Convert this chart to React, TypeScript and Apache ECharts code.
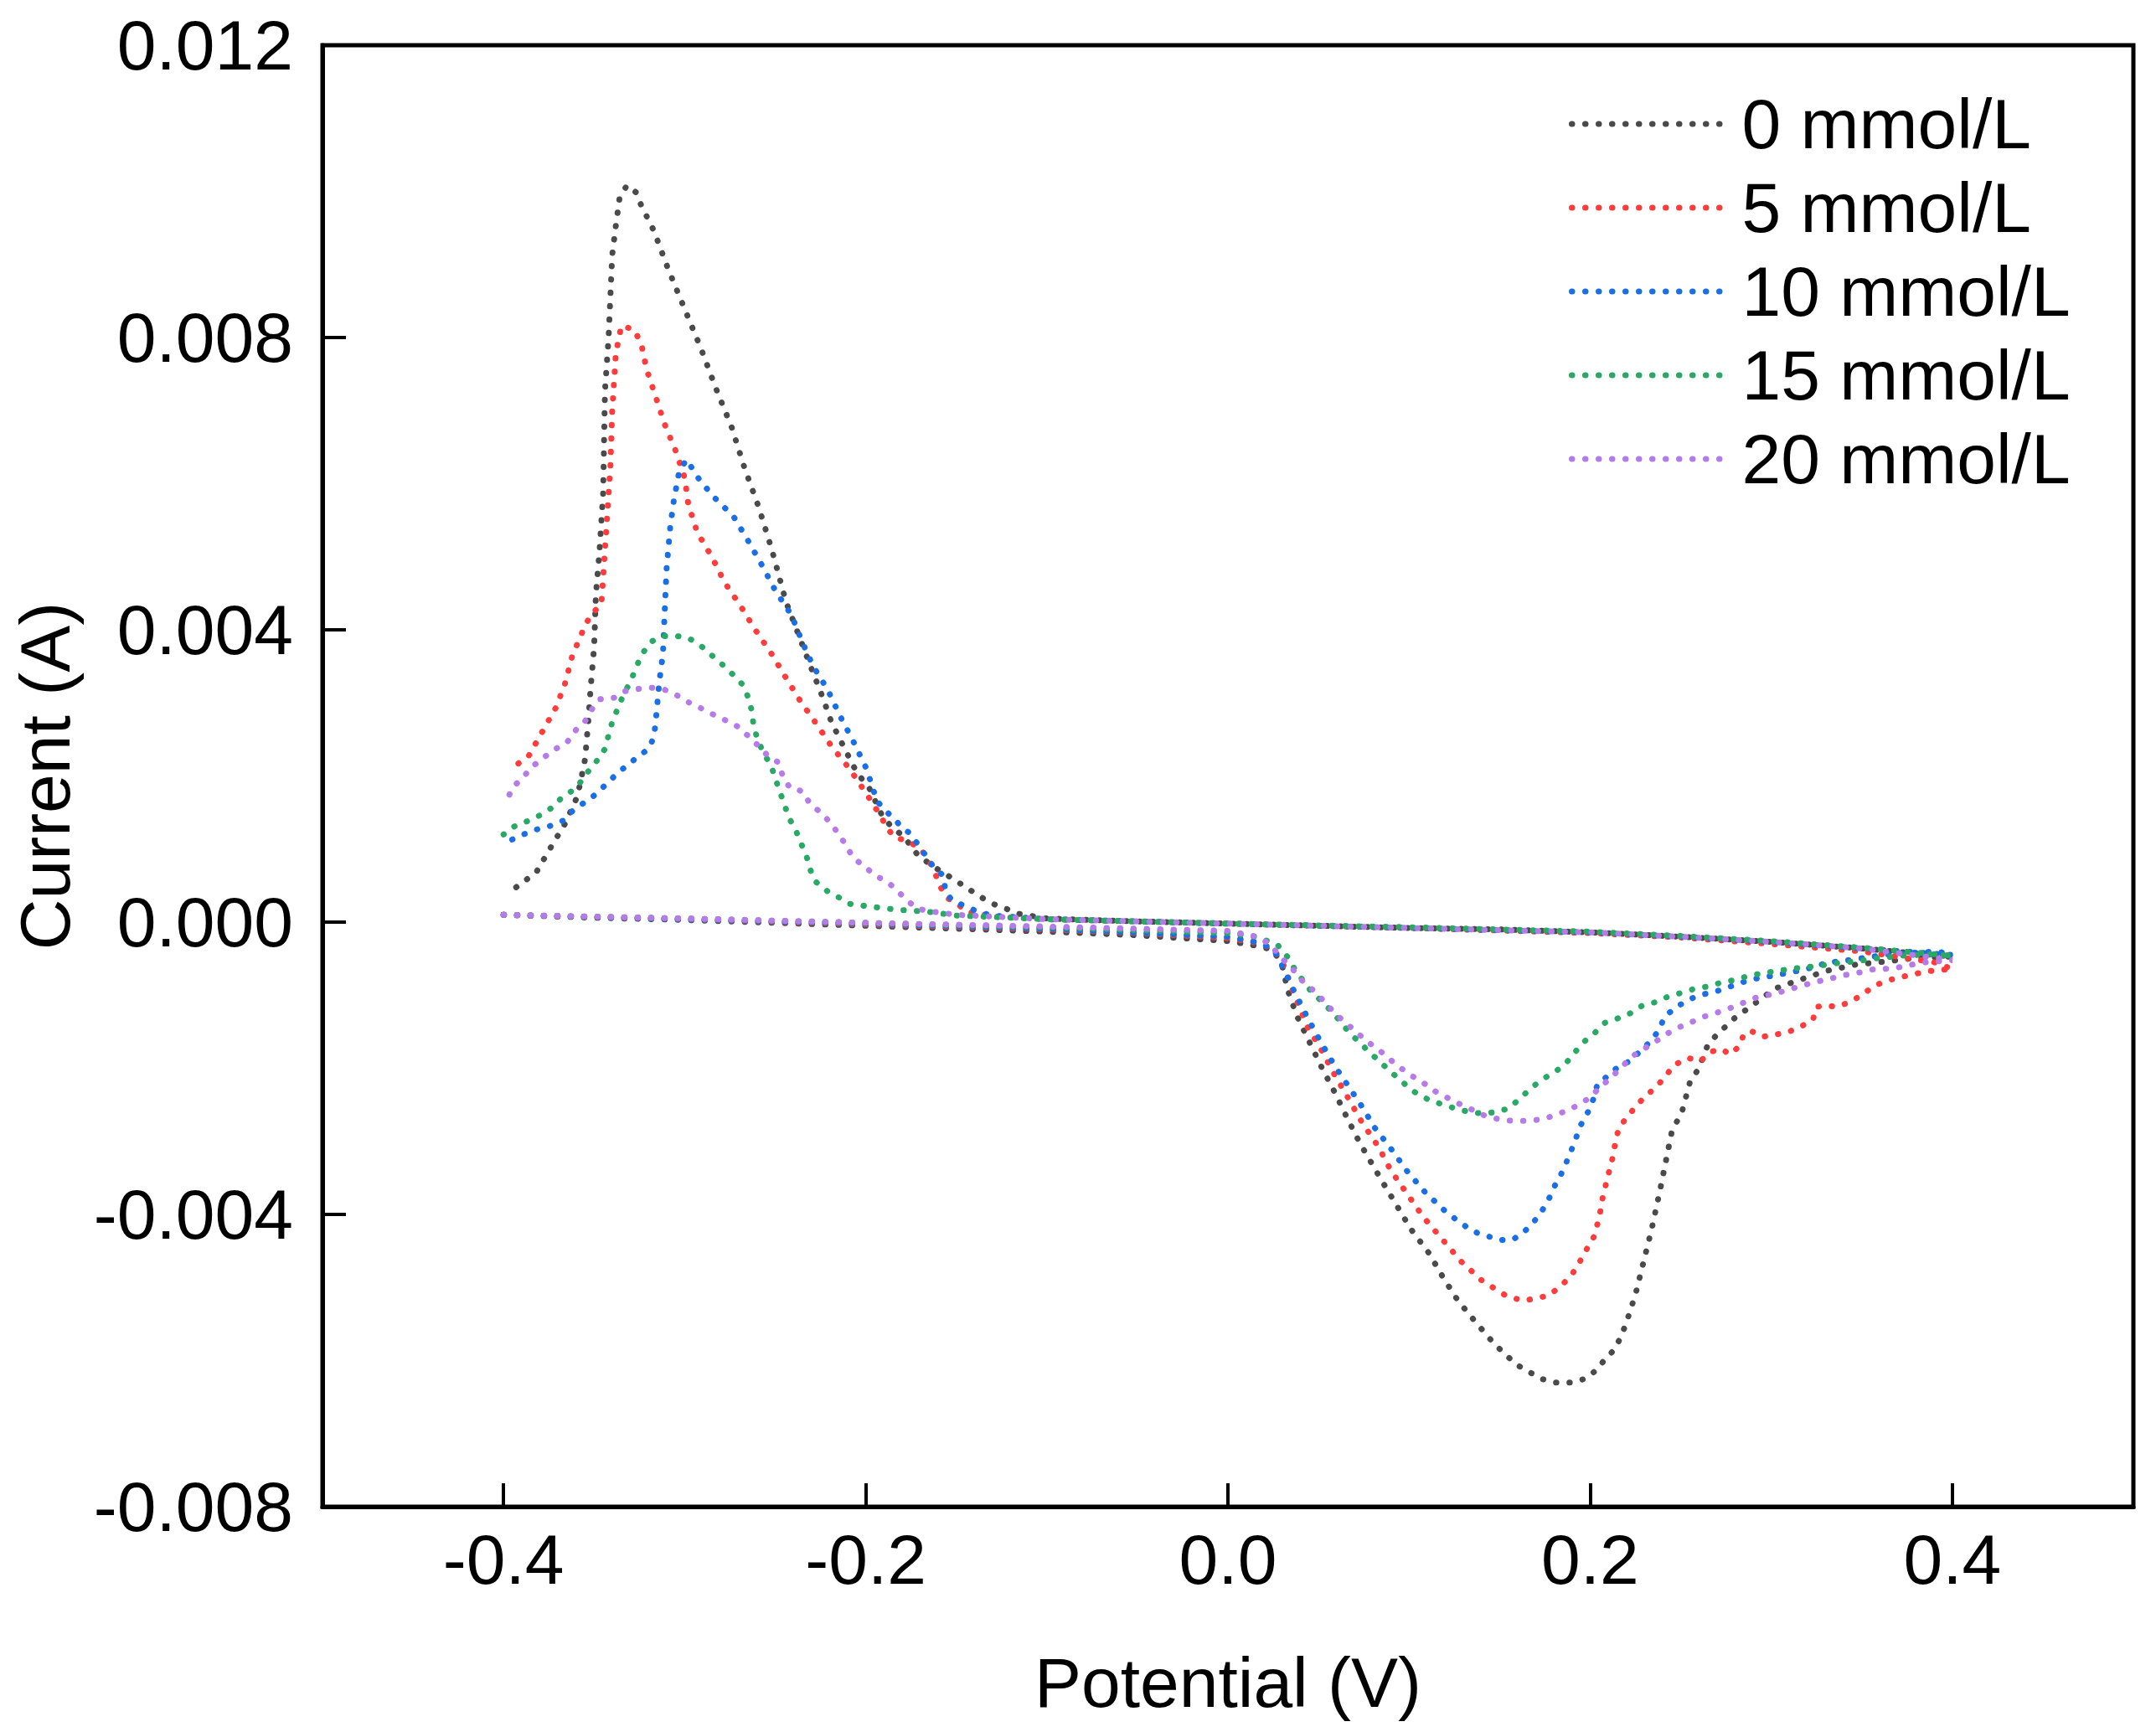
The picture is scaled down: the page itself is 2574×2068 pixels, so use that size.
import { useEffect, useRef } from 'react';
import * as echarts from 'echarts';

type Pt = [number, number];

// potential (V), current (A) — each loop: forward sweep, cathodic wave, return sweep, anodic wave
const seriesNames = ['0 mmol/L', '5 mmol/L', '10 mmol/L', '15 mmol/L', '20 mmol/L'];
const seriesColors = ['#4a4a4a', '#ff3c3c', '#1a6ee6', '#2aa866', '#b57be8'];

const xTicks = [-0.4, -0.2, 0, 0.2, 0.4];

const c0: Pt[] = [
  [-0.4, 0.0001], [-0.35, 0.00006], [-0.3, 0.00003], [-0.25, -0.00001], [-0.2, -0.00005], [-0.15, -0.00009],
  [-0.1, -0.00013], [-0.05, -0.00018], [0.0, -0.00026], [0.015, -0.00032], [0.025, -0.00038],
  [0.03, -0.0006], [0.033, -0.00093], [0.038, -0.00128], [0.045, -0.00164], [0.052, -0.002], [0.059, -0.00233],
  [0.066, -0.00269], [0.073, -0.00303], [0.085, -0.00354], [0.093, -0.00387], [0.101, -0.0042], [0.111, -0.00453],
  [0.119, -0.00487], [0.127, -0.00518], [0.137, -0.00548], [0.147, -0.00577], [0.159, -0.00605], [0.173, -0.00625],
  [0.181, -0.0063], [0.19, -0.0063], [0.197, -0.00625], [0.203, -0.00614], [0.208, -0.00599], [0.213, -0.00586],
  [0.217, -0.00568], [0.22, -0.00548], [0.225, -0.0051], [0.23, -0.0046], [0.234, -0.0042], [0.239, -0.00362],
  [0.242, -0.00325], [0.245, -0.00288], [0.251, -0.00257], [0.255, -0.0022], [0.26, -0.002], [0.265, -0.00168],
  [0.27, -0.00154], [0.28, -0.00131], [0.29, -0.00113], [0.302, -0.00091], [0.317, -0.00078], [0.33, -0.00067],
  [0.347, -0.00058], [0.363, -0.00054], [0.38, -0.00049], [0.4, -0.00047],
  [0.38, -0.00043], [0.35, -0.00036], [0.3, -0.00027], [0.25, -0.0002], [0.2, -0.00014], [0.15, -0.0001],
  [0.1, -0.00008], [0.05, -0.00005], [0.0, -0.00002], [-0.05, 0.00001], [-0.1, 0.00005], [-0.117, 0.00012],
  [-0.121, 0.00017], [-0.127, 0.00022], [-0.133, 0.00029], [-0.14, 0.0004], [-0.151, 0.00058], [-0.162, 0.00075],
  [-0.171, 0.00091], [-0.179, 0.00117], [-0.186, 0.00131], [-0.191, 0.00146], [-0.198, 0.00183], [-0.205, 0.00205],
  [-0.212, 0.00239], [-0.219, 0.00274], [-0.224, 0.00309], [-0.23, 0.00347], [-0.244, 0.00438], [-0.252, 0.00511],
  [-0.259, 0.00567], [-0.267, 0.00622], [-0.274, 0.00677], [-0.283, 0.00732], [-0.291, 0.00785], [-0.3, 0.00839],
  [-0.309, 0.00893], [-0.317, 0.00946], [-0.324, 0.00981], [-0.327, 0.00999], [-0.332, 0.01008], [-0.336, 0.0099],
  [-0.338, 0.00953], [-0.34, 0.00913], [-0.341, 0.00857], [-0.342, 0.008], [-0.344, 0.00727], [-0.345, 0.00588],
  [-0.347, 0.00508], [-0.349, 0.00449], [-0.35, 0.00376], [-0.352, 0.00318], [-0.353, 0.00281], [-0.355, 0.00223],
  [-0.358, 0.00186], [-0.36, 0.00168], [-0.366, 0.00135], [-0.374, 0.00102], [-0.382, 0.00068], [-0.394, 0.00046],
];

const c5: Pt[] = [
  [-0.4, 0.0001], [-0.3, 0.00004], [-0.2, -0.00003], [-0.1, -0.0001], [-0.05, -0.00015], [0.0, -0.00022],
  [0.015, -0.00028], [0.025, -0.00036],
  [0.031, -0.0006], [0.036, -0.00095], [0.044, -0.00144], [0.051, -0.00172], [0.058, -0.00205], [0.066, -0.00239],
  [0.074, -0.00274], [0.083, -0.00307], [0.09, -0.0034], [0.099, -0.00372], [0.108, -0.00404], [0.118, -0.00433],
  [0.129, -0.00465], [0.14, -0.0049], [0.154, -0.00512], [0.163, -0.00518], [0.17, -0.00515], [0.177, -0.00511],
  [0.184, -0.00498], [0.19, -0.00482], [0.194, -0.00466], [0.198, -0.00448], [0.202, -0.00431], [0.205, -0.00405],
  [0.207, -0.00376], [0.209, -0.00356], [0.211, -0.00336], [0.213, -0.00317], [0.214, -0.00299], [0.216, -0.00281],
  [0.221, -0.00265], [0.226, -0.0025], [0.231, -0.00237], [0.236, -0.00227], [0.242, -0.0021], [0.246, -0.00196],
  [0.254, -0.00186], [0.261, -0.0019], [0.267, -0.00177], [0.273, -0.00174], [0.277, -0.00181], [0.282, -0.00171],
  [0.285, -0.00153], [0.289, -0.00149], [0.295, -0.00157], [0.302, -0.00154], [0.309, -0.00151], [0.317, -0.00142],
  [0.323, -0.00134], [0.325, -0.00116], [0.33, -0.00114], [0.336, -0.00116], [0.344, -0.00109], [0.351, -0.00098],
  [0.357, -0.00087], [0.364, -0.0008], [0.372, -0.00075], [0.379, -0.00071], [0.387, -0.00067], [0.4, -0.00064],
  [0.39, -0.00055], [0.35, -0.0004], [0.3, -0.0003], [0.25, -0.00021], [0.2, -0.00015], [0.1, -0.00008],
  [0.0, -0.00002], [-0.1, 0.00004], [-0.13, 0.00008],
  [-0.144, 0.00014], [-0.149, 0.00024], [-0.155, 0.00033], [-0.159, 0.00049], [-0.162, 0.00069], [-0.165, 0.00084],
  [-0.17, 0.00101], [-0.177, 0.00111], [-0.184, 0.00116], [-0.188, 0.00128], [-0.192, 0.00146], [-0.2, 0.00177],
  [-0.209, 0.0021], [-0.219, 0.00241], [-0.228, 0.00274], [-0.236, 0.00302], [-0.244, 0.00334], [-0.252, 0.00367],
  [-0.261, 0.004], [-0.269, 0.00432], [-0.278, 0.00465], [-0.285, 0.005], [-0.293, 0.00533], [-0.298, 0.00572],
  [-0.3, 0.00608], [-0.305, 0.00645], [-0.311, 0.00681], [-0.316, 0.00719], [-0.321, 0.00756], [-0.324, 0.00792],
  [-0.328, 0.00811], [-0.335, 0.00816], [-0.338, 0.00778], [-0.34, 0.00701], [-0.341, 0.00624], [-0.343, 0.00548],
  [-0.345, 0.00472], [-0.346, 0.00435], [-0.352, 0.0042], [-0.356, 0.004], [-0.362, 0.00365], [-0.366, 0.00327],
  [-0.371, 0.00294], [-0.379, 0.00259], [-0.386, 0.00228], [-0.394, 0.00213],
];

const c10: Pt[] = [
  [-0.4, 0.0001], [-0.3, 0.00004], [-0.2, -0.00002], [-0.1, -0.00009], [0.0, -0.0002], [0.015, -0.00027],
  [0.025, -0.00036],
  [0.03, -0.0006], [0.037, -0.00097], [0.044, -0.00131], [0.051, -0.00163], [0.059, -0.00197], [0.068, -0.0023],
  [0.076, -0.0026], [0.08, -0.00278], [0.09, -0.0031], [0.099, -0.00341], [0.109, -0.0037], [0.121, -0.00398],
  [0.135, -0.00423], [0.15, -0.00435], [0.157, -0.00435], [0.163, -0.00425], [0.168, -0.00413], [0.173, -0.00397],
  [0.177, -0.0038], [0.18, -0.00363], [0.184, -0.00345], [0.187, -0.00328], [0.19, -0.0031], [0.195, -0.00277],
  [0.199, -0.00259], [0.202, -0.00241], [0.204, -0.00222], [0.21, -0.0021], [0.215, -0.00199], [0.222, -0.0019],
  [0.228, -0.00176], [0.233, -0.00164], [0.238, -0.00148], [0.241, -0.0013], [0.247, -0.00117], [0.254, -0.00107],
  [0.26, -0.001], [0.268, -0.00096], [0.273, -0.00092], [0.281, -0.00085], [0.287, -0.0008], [0.294, -0.00076],
  [0.302, -0.00073], [0.308, -0.0007], [0.316, -0.00066], [0.323, -0.00062], [0.329, -0.00057], [0.336, -0.00054],
  [0.343, -0.00052], [0.354, -0.00048], [0.368, -0.00043], [0.379, -0.00042], [0.392, -0.0004], [0.4, -0.00045],
  [0.35, -0.00036], [0.3, -0.00027], [0.25, -0.0002], [0.2, -0.00014], [0.1, -0.00008], [0.0, -0.00002],
  [-0.1, 0.00004], [-0.13, 0.00009],
  [-0.138, 0.00014], [-0.145, 0.00022], [-0.152, 0.00029], [-0.156, 0.00041], [-0.157, 0.00063], [-0.163, 0.00077],
  [-0.171, 0.00106], [-0.176, 0.00122], [-0.182, 0.00135], [-0.188, 0.0015], [-0.194, 0.00166], [-0.196, 0.00183],
  [-0.2, 0.00212], [-0.207, 0.00248], [-0.214, 0.00281], [-0.221, 0.00318], [-0.229, 0.0035], [-0.235, 0.00383],
  [-0.241, 0.0042], [-0.25, 0.00454], [-0.257, 0.00487], [-0.265, 0.00522], [-0.273, 0.00555], [-0.284, 0.00582],
  [-0.292, 0.00606], [-0.299, 0.00633], [-0.303, 0.00617], [-0.306, 0.00577], [-0.308, 0.0054], [-0.31, 0.00483],
  [-0.311, 0.00426], [-0.312, 0.00367], [-0.314, 0.00329], [-0.316, 0.00274], [-0.317, 0.00253], [-0.32, 0.00237],
  [-0.326, 0.00226], [-0.337, 0.00204], [-0.349, 0.00175], [-0.362, 0.00152], [-0.367, 0.00139], [-0.375, 0.00131],
  [-0.383, 0.00126], [-0.39, 0.00119], [-0.397, 0.00111],
];

const c15: Pt[] = [
  [-0.4, 0.0001], [-0.3, 0.00005], [-0.2, -0.00001], [-0.1, -0.00007], [0.0, -0.00015], [0.015, -0.0002],
  [0.027, -0.0003],
  [0.033, -0.00048], [0.037, -0.00065], [0.046, -0.00095], [0.052, -0.00109], [0.058, -0.00124], [0.067, -0.00151],
  [0.079, -0.0018], [0.09, -0.00205], [0.102, -0.00231], [0.11, -0.00242], [0.12, -0.00251], [0.13, -0.00258],
  [0.14, -0.00262], [0.148, -0.0026], [0.155, -0.00255], [0.161, -0.00242], [0.167, -0.00228], [0.173, -0.00216],
  [0.18, -0.00206], [0.186, -0.00195], [0.191, -0.0018], [0.196, -0.00165], [0.202, -0.00153], [0.208, -0.00138],
  [0.215, -0.00132], [0.222, -0.00125], [0.229, -0.00114], [0.237, -0.00109], [0.243, -0.00102], [0.25, -0.00097],
  [0.258, -0.00091], [0.265, -0.00088], [0.272, -0.00083], [0.28, -0.00079], [0.287, -0.00074], [0.295, -0.0007],
  [0.303, -0.00067], [0.311, -0.00064], [0.318, -0.00062], [0.326, -0.0006], [0.333, -0.00057], [0.341, -0.00055],
  [0.349, -0.00053], [0.356, -0.0005], [0.364, -0.00048], [0.372, -0.00046], [0.387, -0.00044], [0.4, -0.00046],
  [0.35, -0.00035], [0.3, -0.00026], [0.25, -0.00019], [0.2, -0.00013], [0.1, -0.00007], [0.0, -0.00002],
  [-0.1, 0.00004], [-0.15, 0.00009],
  [-0.165, 0.00014], [-0.183, 0.00017], [-0.2, 0.00022], [-0.209, 0.00025], [-0.215, 0.00034], [-0.221, 0.00042],
  [-0.228, 0.00056], [-0.231, 0.00074], [-0.233, 0.00093], [-0.236, 0.00109], [-0.239, 0.00128], [-0.243, 0.00145],
  [-0.245, 0.00163], [-0.248, 0.00181], [-0.25, 0.00199], [-0.253, 0.00217], [-0.257, 0.00234], [-0.26, 0.00252],
  [-0.262, 0.0027], [-0.263, 0.0029], [-0.265, 0.00308], [-0.268, 0.00325], [-0.273, 0.00338], [-0.279, 0.00352],
  [-0.285, 0.00365], [-0.291, 0.00378], [-0.298, 0.00389], [-0.306, 0.00392], [-0.313, 0.00391], [-0.319, 0.00383],
  [-0.324, 0.00365], [-0.327, 0.00347], [-0.33, 0.00329], [-0.334, 0.0031], [-0.337, 0.00292], [-0.34, 0.00274],
  [-0.342, 0.00256], [-0.344, 0.00237], [-0.349, 0.00219], [-0.354, 0.00204], [-0.358, 0.0019], [-0.362, 0.0018],
  [-0.368, 0.0017], [-0.373, 0.00157], [-0.38, 0.00146], [-0.386, 0.00139], [-0.394, 0.00131], [-0.4, 0.0012],
];

const c20: Pt[] = [
  [-0.4, 0.0001], [-0.3, 0.00005], [-0.2, -0.00001], [-0.1, -0.00006], [0.0, -0.00012], [0.016, -0.0002],
  [0.023, -0.0003],
  [0.03, -0.0005], [0.036, -0.00065], [0.04, -0.00078], [0.047, -0.00093], [0.053, -0.00108], [0.058, -0.00122],
  [0.064, -0.00136], [0.07, -0.00148], [0.076, -0.00162], [0.083, -0.00174], [0.089, -0.00187], [0.095, -0.00199],
  [0.102, -0.00211], [0.108, -0.0022], [0.114, -0.00231], [0.121, -0.0024], [0.128, -0.00249], [0.136, -0.00258],
  [0.142, -0.00265], [0.15, -0.0027], [0.157, -0.00272], [0.165, -0.00272], [0.173, -0.0027], [0.18, -0.00265],
  [0.187, -0.00258], [0.193, -0.00251], [0.2, -0.0024], [0.205, -0.00227], [0.211, -0.00214], [0.218, -0.00197],
  [0.223, -0.00184], [0.23, -0.00173], [0.237, -0.00162], [0.243, -0.00152], [0.249, -0.00144], [0.255, -0.00138],
  [0.262, -0.0013], [0.27, -0.00124], [0.277, -0.00118], [0.284, -0.00111], [0.293, -0.00102], [0.302, -0.00098],
  [0.31, -0.00092], [0.317, -0.00087], [0.324, -0.00082], [0.332, -0.00078], [0.339, -0.00073], [0.347, -0.0007],
  [0.355, -0.00065], [0.363, -0.00064], [0.37, -0.00062], [0.378, -0.00058], [0.385, -0.00055], [0.4, -0.00052],
  [0.35, -0.00036], [0.3, -0.00027], [0.25, -0.0002], [0.2, -0.00014], [0.1, -0.00008], [0.0, -0.00002],
  [-0.1, 0.00004], [-0.15, 0.0001],
  [-0.162, 0.00014], [-0.171, 0.00018], [-0.177, 0.00029], [-0.183, 0.00044], [-0.188, 0.00055], [-0.195, 0.00064],
  [-0.201, 0.00077], [-0.207, 0.00088], [-0.211, 0.00106], [-0.215, 0.0012], [-0.219, 0.00135], [-0.225, 0.0015],
  [-0.231, 0.00163], [-0.235, 0.00179], [-0.242, 0.00184], [-0.246, 0.00201], [-0.248, 0.00218], [-0.255, 0.0023],
  [-0.26, 0.00243], [-0.265, 0.00255], [-0.271, 0.00268], [-0.278, 0.00277], [-0.285, 0.00285], [-0.292, 0.00294],
  [-0.298, 0.00301], [-0.304, 0.0031], [-0.311, 0.00318], [-0.319, 0.00321], [-0.326, 0.00319], [-0.333, 0.00316],
  [-0.339, 0.00307], [-0.347, 0.00305], [-0.351, 0.00292], [-0.355, 0.00275], [-0.36, 0.00263], [-0.365, 0.00246],
  [-0.37, 0.00239], [-0.378, 0.00225], [-0.384, 0.00213], [-0.389, 0.00199], [-0.395, 0.00184], [-0.398, 0.00168],
];

const curves = [c0, c5, c10, c15, c20];

const FONT = '"Liberation Sans", Arial, sans-serif';
const DOTS = { width: 7, type: [0.5, 15.5] as number[], cap: 'round' as const };

export default function App() {
  const chartRef = useRef<HTMLDivElement>(null);

  useEffect(() => {
    if (!chartRef.current) return;
    const chart = echarts.init(chartRef.current, null, { renderer: 'svg' });

    chart.setOption({
      animation: false,
      backgroundColor: '#fff',
      textStyle: { fontFamily: FONT, color: '#000' },
      grid: {
        left: 385,
        right: 27,
        top: 54,
        bottom: 269,
        show: true,
        borderColor: '#000',
        borderWidth: 5,
      },
      legend: {
        orient: 'vertical',
        left: 1873,
        top: 98,
        padding: 0,
        itemGap: 0,
        itemWidth: 178,
        itemHeight: 20,
        data: seriesNames,
        lineStyle: DOTS,
        itemStyle: { opacity: 0 },
        textStyle: {
          fontFamily: FONT,
          fontSize: 84,
          color: '#000',
          lineHeight: 100,
          padding: [0, 0, 0, 20],
        },
      },
      xAxis: {
        type: 'value',
        min: -0.5,
        max: 0.5,
        interval: 0.1,
        name: 'Potential (V)',
        nameLocation: 'middle',
        nameGap: 168,
        nameTextStyle: { fontFamily: FONT, fontSize: 84, color: '#000' },
        axisLine: { onZero: false, lineStyle: { color: '#000', width: 5 } },
        axisTick: {
          inside: true,
          length: 28,
          customValues: xTicks,
          lineStyle: { color: '#000', width: 4 },
        },
        axisLabel: {
          customValues: xTicks,
          margin: 21,
          fontFamily: FONT,
          fontSize: 84,
          color: '#000',
          formatter: (v: number) => v.toFixed(1),
        },
        splitLine: { show: false },
      },
      yAxis: {
        type: 'value',
        min: -0.008,
        max: 0.012,
        interval: 0.004,
        name: 'Current (A)',
        nameLocation: 'middle',
        nameGap: 289,
        nameRotate: 90,
        nameTextStyle: { fontFamily: FONT, fontSize: 84, color: '#000' },
        axisLine: { onZero: false, lineStyle: { color: '#000', width: 5 } },
        axisTick: { inside: true, length: 28, lineStyle: { color: '#000', width: 4 } },
        axisLabel: {
          margin: 35,
          fontFamily: FONT,
          fontSize: 84,
          color: '#000',
          formatter: (v: number) => v.toFixed(3),
        },
        splitLine: { show: false },
      },
      series: curves.map((data, i) => ({
        name: seriesNames[i],
        type: 'line',
        data,
        symbol: 'none',
        smooth: false,
        color: seriesColors[i],
        lineStyle: { ...DOTS, color: seriesColors[i] },
      })),
    });

    return () => chart.dispose();
  }, []);

  return (
    <div
      ref={chartRef}
      style={{ position: 'absolute', left: 0, top: 0, width: 2574, height: 2068 }}
    />
  );
}
